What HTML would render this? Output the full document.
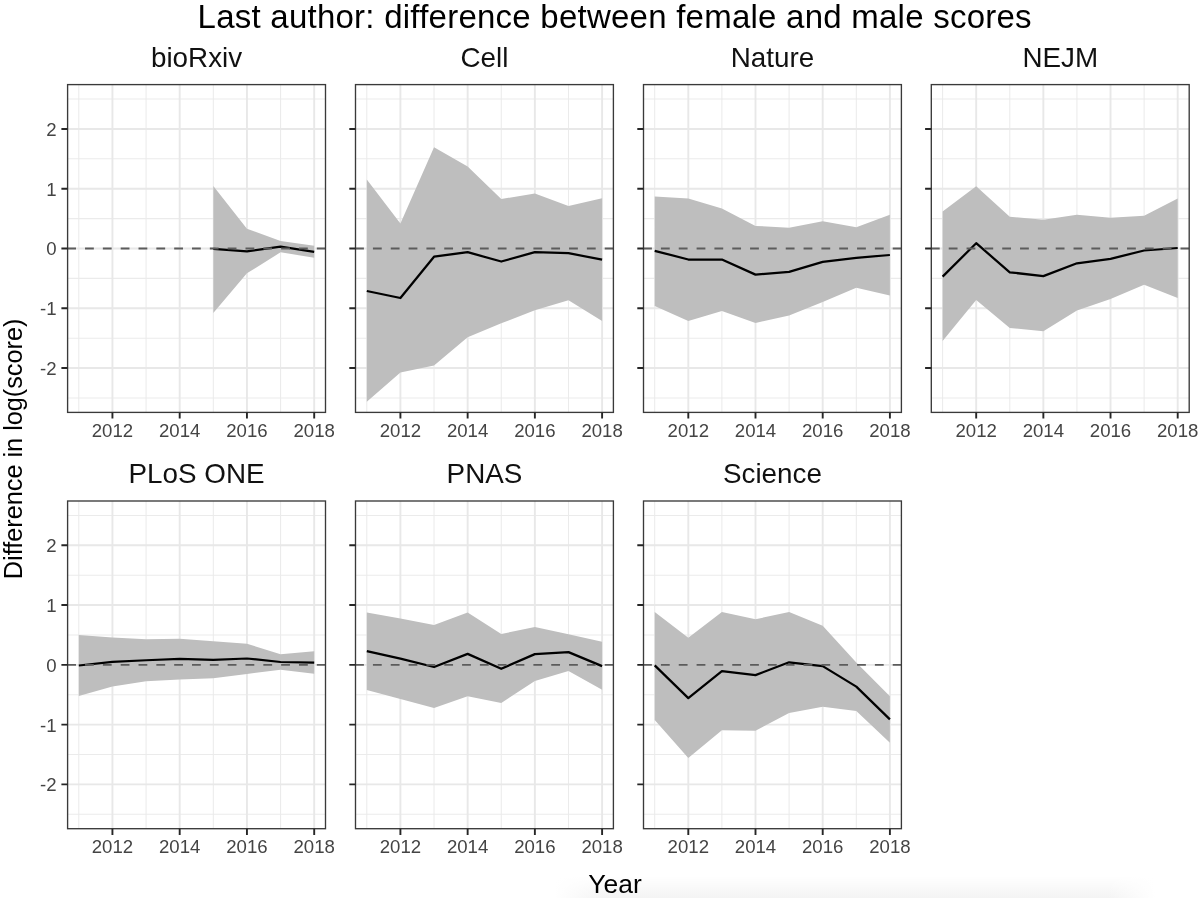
<!DOCTYPE html>
<html lang="en"><head><meta charset="utf-8"><title>Last author: difference between female and male scores</title>
<style>html,body{margin:0;padding:0;background:#fff}body{width:1200px;height:898px;overflow:hidden}svg{display:block}text{font-family:"Liberation Sans",Arial,Helvetica,sans-serif}</style>
</head><body>
<svg width="1200" height="898" viewBox="0 0 1200 898">
<defs><linearGradient id="sh" x1="0" y1="0" x2="0" y2="1"><stop offset="0" stop-color="#000" stop-opacity="0"/><stop offset="1" stop-color="#000" stop-opacity="0.045"/></linearGradient><linearGradient id="shx" x1="0" y1="0" x2="1" y2="0"><stop offset="0" stop-color="#fff" stop-opacity="1"/><stop offset="0.08" stop-color="#fff" stop-opacity="0"/><stop offset="0.92" stop-color="#fff" stop-opacity="0"/><stop offset="1" stop-color="#fff" stop-opacity="1"/></linearGradient></defs>
<rect width="1200" height="898" fill="#ffffff"/>
<rect x="555" y="876" width="600" height="22" fill="url(#sh)"/><rect x="555" y="876" width="600" height="22" fill="url(#shx)"/>
<text x="197.6" y="28.3" font-size="33" fill="#000" textLength="834" lengthAdjust="spacing">Last author: difference between female and male scores</text>
<text x="588.3" y="893.2" font-size="25" fill="#000" textLength="53.4" lengthAdjust="spacingAndGlyphs">Year</text>
<text transform="translate(21.7,448.9) rotate(-90)" font-size="25.25" fill="#000" text-anchor="middle">Difference in log(score)</text>
<g>
<text x="196.55" y="66.8" font-size="27.8" fill="#111" text-anchor="middle">bioRxiv</text>
<path d="M67.6 397.95H325.5M67.6 338.17H325.5M67.6 278.39H325.5M67.6 218.61H325.5M67.6 158.83H325.5M67.6 99.05H325.5M78.8 84.6V412.4M146.06 84.6V412.4M213.31 84.6V412.4M280.57 84.6V412.4" stroke="#ebebeb" stroke-width="1.05" fill="none"/>
<path d="M67.6 368.06H325.5M67.6 308.28H325.5M67.6 248.5H325.5M67.6 188.72H325.5M67.6 128.94H325.5M112.43 84.6V412.4M179.69 84.6V412.4M246.94 84.6V412.4M314.2 84.6V412.4" stroke="#e8e8e8" stroke-width="1.9" fill="none"/>
<polygon points="213.31,186 246.94,228.8 280.57,240.9 314.2,245.7 314.2,257.7 280.57,252.3 246.94,273.3 213.31,313.1" fill="#bebebe"/>
<polyline points="213.31,248.9 246.94,251.4 280.57,246.6 314.2,251.9" fill="none" stroke="#000" stroke-width="2.25" stroke-linejoin="round" stroke-linecap="butt"/>
<path d="M67.6 248.5H325.5" stroke="#5c5c5c" stroke-width="1.95" stroke-dasharray="8.8 9.03" stroke-dashoffset="0.4" fill="none"/>
<rect x="67.6" y="84.6" width="257.9" height="327.8" fill="none" stroke="#3a3a3a" stroke-width="1.35"/>
<path d="M61.4 368.06H67.6M61.4 308.28H67.6M61.4 248.5H67.6M61.4 188.72H67.6M61.4 128.94H67.6M112.43 412.4V418.6M179.69 412.4V418.6M246.94 412.4V418.6M314.2 412.4V418.6" stroke="#262626" stroke-width="1.9" fill="none"/>
<text x="112.43" y="436.7" font-size="18.6" fill="#444" text-anchor="middle">2012</text>
<text x="179.69" y="436.7" font-size="18.6" fill="#444" text-anchor="middle">2014</text>
<text x="246.94" y="436.7" font-size="18.6" fill="#444" text-anchor="middle">2016</text>
<text x="314.2" y="436.7" font-size="18.6" fill="#444" text-anchor="middle">2018</text>
<text x="56.6" y="374.96" font-size="18.6" fill="#444" text-anchor="end">-2</text>
<text x="56.6" y="315.18" font-size="18.6" fill="#444" text-anchor="end">-1</text>
<text x="56.6" y="255.4" font-size="18.6" fill="#444" text-anchor="end">0</text>
<text x="56.6" y="195.62" font-size="18.6" fill="#444" text-anchor="end">1</text>
<text x="56.6" y="135.84" font-size="18.6" fill="#444" text-anchor="end">2</text>
</g>
<g>
<text x="484.45" y="66.8" font-size="27.8" fill="#111" text-anchor="middle">Cell</text>
<path d="M355.5 397.95H613.4M355.5 338.17H613.4M355.5 278.39H613.4M355.5 218.61H613.4M355.5 158.83H613.4M355.5 99.05H613.4M366.8 84.6V412.4M434.03 84.6V412.4M501.26 84.6V412.4M568.49 84.6V412.4" stroke="#ebebeb" stroke-width="1.05" fill="none"/>
<path d="M355.5 368.06H613.4M355.5 308.28H613.4M355.5 248.5H613.4M355.5 188.72H613.4M355.5 128.94H613.4M400.41 84.6V412.4M467.64 84.6V412.4M534.87 84.6V412.4M602.1 84.6V412.4" stroke="#e8e8e8" stroke-width="1.9" fill="none"/>
<polygon points="366.8,179.5 400.41,223.4 434.03,147.2 467.64,166.5 501.26,199 534.87,193.5 568.49,206.1 602.1,198.3 602.1,321.1 568.49,300.3 534.87,310.3 501.26,323.3 467.64,337.3 434.03,365.4 400.41,372.4 366.8,401.8" fill="#bebebe"/>
<polyline points="366.8,291 400.41,298 434.03,256.7 467.64,252.2 501.26,261.5 534.87,252.2 568.49,253.2 602.1,259.7" fill="none" stroke="#000" stroke-width="2.25" stroke-linejoin="round" stroke-linecap="butt"/>
<path d="M355.5 248.5H613.4" stroke="#5c5c5c" stroke-width="1.95" stroke-dasharray="8.8 9.03" stroke-dashoffset="0.4" fill="none"/>
<rect x="355.5" y="84.6" width="257.9" height="327.8" fill="none" stroke="#3a3a3a" stroke-width="1.35"/>
<path d="M349.3 368.06H355.5M349.3 308.28H355.5M349.3 248.5H355.5M349.3 188.72H355.5M349.3 128.94H355.5M400.41 412.4V418.6M467.64 412.4V418.6M534.87 412.4V418.6M602.1 412.4V418.6" stroke="#262626" stroke-width="1.9" fill="none"/>
<text x="400.41" y="436.7" font-size="18.6" fill="#444" text-anchor="middle">2012</text>
<text x="467.64" y="436.7" font-size="18.6" fill="#444" text-anchor="middle">2014</text>
<text x="534.87" y="436.7" font-size="18.6" fill="#444" text-anchor="middle">2016</text>
<text x="602.1" y="436.7" font-size="18.6" fill="#444" text-anchor="middle">2018</text>
</g>
<g>
<text x="772.45" y="66.8" font-size="27.8" fill="#111" text-anchor="middle">Nature</text>
<path d="M643.5 397.95H901.4M643.5 338.17H901.4M643.5 278.39H901.4M643.5 218.61H901.4M643.5 158.83H901.4M643.5 99.05H901.4M654.7 84.6V412.4M721.9 84.6V412.4M789.1 84.6V412.4M856.3 84.6V412.4" stroke="#ebebeb" stroke-width="1.05" fill="none"/>
<path d="M643.5 368.06H901.4M643.5 308.28H901.4M643.5 248.5H901.4M643.5 188.72H901.4M643.5 128.94H901.4M688.3 84.6V412.4M755.5 84.6V412.4M822.7 84.6V412.4M889.9 84.6V412.4" stroke="#e8e8e8" stroke-width="1.9" fill="none"/>
<polygon points="654.7,196.4 688.3,198.4 721.9,208.4 755.5,225.9 789.1,227.7 822.7,221.2 856.3,227.2 889.9,214.7 889.9,295.4 856.3,287.8 822.7,302.1 789.1,315.4 755.5,322.9 721.9,310.9 688.3,320.9 654.7,305.9" fill="#bebebe"/>
<polyline points="654.7,250.8 688.3,259.5 721.9,259.5 755.5,274.6 789.1,271.8 822.7,261.8 856.3,257.8 889.9,255" fill="none" stroke="#000" stroke-width="2.25" stroke-linejoin="round" stroke-linecap="butt"/>
<path d="M643.5 248.5H901.4" stroke="#5c5c5c" stroke-width="1.95" stroke-dasharray="8.8 9.03" stroke-dashoffset="0.4" fill="none"/>
<rect x="643.5" y="84.6" width="257.9" height="327.8" fill="none" stroke="#3a3a3a" stroke-width="1.35"/>
<path d="M637.3 368.06H643.5M637.3 308.28H643.5M637.3 248.5H643.5M637.3 188.72H643.5M637.3 128.94H643.5M688.3 412.4V418.6M755.5 412.4V418.6M822.7 412.4V418.6M889.9 412.4V418.6" stroke="#262626" stroke-width="1.9" fill="none"/>
<text x="688.3" y="436.7" font-size="18.6" fill="#444" text-anchor="middle">2012</text>
<text x="755.5" y="436.7" font-size="18.6" fill="#444" text-anchor="middle">2014</text>
<text x="822.7" y="436.7" font-size="18.6" fill="#444" text-anchor="middle">2016</text>
<text x="889.9" y="436.7" font-size="18.6" fill="#444" text-anchor="middle">2018</text>
</g>
<g>
<text x="1060.25" y="66.8" font-size="27.8" fill="#111" text-anchor="middle">NEJM</text>
<path d="M931.3 397.95H1189.2M931.3 338.17H1189.2M931.3 278.39H1189.2M931.3 218.61H1189.2M931.3 158.83H1189.2M931.3 99.05H1189.2M942.6 84.6V412.4M1009.77 84.6V412.4M1076.94 84.6V412.4M1144.11 84.6V412.4" stroke="#ebebeb" stroke-width="1.05" fill="none"/>
<path d="M931.3 368.06H1189.2M931.3 308.28H1189.2M931.3 248.5H1189.2M931.3 188.72H1189.2M931.3 128.94H1189.2M976.19 84.6V412.4M1043.36 84.6V412.4M1110.53 84.6V412.4M1177.7 84.6V412.4" stroke="#e8e8e8" stroke-width="1.9" fill="none"/>
<polygon points="942.6,211.4 976.19,186.3 1009.77,216.7 1043.36,219.7 1076.94,214.7 1110.53,217.7 1144.11,215.7 1177.7,198.4 1177.7,297.9 1144.11,284.8 1110.53,299.1 1076.94,310.4 1043.36,331.2 1009.77,327.9 976.19,299.9 942.6,341" fill="#bebebe"/>
<polyline points="942.6,276.6 976.19,243.2 1009.77,272.3 1043.36,276.1 1076.94,263.3 1110.53,258.8 1144.11,250.5 1177.7,248" fill="none" stroke="#000" stroke-width="2.25" stroke-linejoin="round" stroke-linecap="butt"/>
<path d="M931.3 248.5H1189.2" stroke="#5c5c5c" stroke-width="1.95" stroke-dasharray="8.8 9.03" stroke-dashoffset="0.4" fill="none"/>
<rect x="931.3" y="84.6" width="257.9" height="327.8" fill="none" stroke="#3a3a3a" stroke-width="1.35"/>
<path d="M925.1 368.06H931.3M925.1 308.28H931.3M925.1 248.5H931.3M925.1 188.72H931.3M925.1 128.94H931.3M976.19 412.4V418.6M1043.36 412.4V418.6M1110.53 412.4V418.6M1177.7 412.4V418.6" stroke="#262626" stroke-width="1.9" fill="none"/>
<text x="976.19" y="436.7" font-size="18.6" fill="#444" text-anchor="middle">2012</text>
<text x="1043.36" y="436.7" font-size="18.6" fill="#444" text-anchor="middle">2014</text>
<text x="1110.53" y="436.7" font-size="18.6" fill="#444" text-anchor="middle">2016</text>
<text x="1177.7" y="436.7" font-size="18.6" fill="#444" text-anchor="middle">2018</text>
</g>
<g>
<text x="196.55" y="483.2" font-size="27.8" fill="#111" text-anchor="middle">PLoS ONE</text>
<path d="M67.6 814.3H325.5M67.6 754.52H325.5M67.6 694.74H325.5M67.6 634.96H325.5M67.6 575.18H325.5M67.6 515.4H325.5M78.8 501V828.7M146.06 501V828.7M213.31 501V828.7M280.57 501V828.7" stroke="#ebebeb" stroke-width="1.05" fill="none"/>
<path d="M67.6 784.41H325.5M67.6 724.63H325.5M67.6 664.85H325.5M67.6 605.07H325.5M67.6 545.29H325.5M112.43 501V828.7M179.69 501V828.7M246.94 501V828.7M314.2 501V828.7" stroke="#e8e8e8" stroke-width="1.9" fill="none"/>
<polygon points="78.8,634.9 112.43,637.5 146.06,639.25 179.69,638.7 213.31,641.35 246.94,643.7 280.57,654.2 314.2,651.3 314.2,673.7 280.57,669.8 246.94,673.9 213.31,678.3 179.69,679.5 146.06,681.25 112.43,686.5 78.8,696.1" fill="#bebebe"/>
<polyline points="78.8,665.5 112.43,661.8 146.06,660.25 179.69,658.85 213.31,659.9 246.94,658.5 280.57,662 314.2,662.6" fill="none" stroke="#000" stroke-width="2.25" stroke-linejoin="round" stroke-linecap="butt"/>
<path d="M67.6 664.85H325.5" stroke="#5c5c5c" stroke-width="1.95" stroke-dasharray="8.8 9.03" stroke-dashoffset="0.4" fill="none"/>
<rect x="67.6" y="501" width="257.9" height="327.7" fill="none" stroke="#3a3a3a" stroke-width="1.35"/>
<path d="M61.4 784.41H67.6M61.4 724.63H67.6M61.4 664.85H67.6M61.4 605.07H67.6M61.4 545.29H67.6M112.43 828.7V834.9M179.69 828.7V834.9M246.94 828.7V834.9M314.2 828.7V834.9" stroke="#262626" stroke-width="1.9" fill="none"/>
<text x="112.43" y="853" font-size="18.6" fill="#444" text-anchor="middle">2012</text>
<text x="179.69" y="853" font-size="18.6" fill="#444" text-anchor="middle">2014</text>
<text x="246.94" y="853" font-size="18.6" fill="#444" text-anchor="middle">2016</text>
<text x="314.2" y="853" font-size="18.6" fill="#444" text-anchor="middle">2018</text>
<text x="56.6" y="791.31" font-size="18.6" fill="#444" text-anchor="end">-2</text>
<text x="56.6" y="731.53" font-size="18.6" fill="#444" text-anchor="end">-1</text>
<text x="56.6" y="671.75" font-size="18.6" fill="#444" text-anchor="end">0</text>
<text x="56.6" y="611.97" font-size="18.6" fill="#444" text-anchor="end">1</text>
<text x="56.6" y="552.19" font-size="18.6" fill="#444" text-anchor="end">2</text>
</g>
<g>
<text x="484.45" y="483.2" font-size="27.8" fill="#111" text-anchor="middle">PNAS</text>
<path d="M355.5 814.3H613.4M355.5 754.52H613.4M355.5 694.74H613.4M355.5 634.96H613.4M355.5 575.18H613.4M355.5 515.4H613.4M366.8 501V828.7M434.03 501V828.7M501.26 501V828.7M568.49 501V828.7" stroke="#ebebeb" stroke-width="1.05" fill="none"/>
<path d="M355.5 784.41H613.4M355.5 724.63H613.4M355.5 664.85H613.4M355.5 605.07H613.4M355.5 545.29H613.4M400.41 501V828.7M467.64 501V828.7M534.87 501V828.7M602.1 501V828.7" stroke="#e8e8e8" stroke-width="1.9" fill="none"/>
<polygon points="366.8,612.5 400.41,618.6 434.03,624.9 467.64,612.5 501.26,633.9 534.87,627.1 568.49,634.3 602.1,641.75 602.1,689.7 568.49,671 534.87,681.1 501.26,703 467.64,696.2 434.03,708.1 400.41,699.1 366.8,690.1" fill="#bebebe"/>
<polyline points="366.8,651.2 400.41,658.6 434.03,667 467.64,653.9 501.26,668.75 534.87,654.1 568.49,652.1 602.1,666.1" fill="none" stroke="#000" stroke-width="2.25" stroke-linejoin="round" stroke-linecap="butt"/>
<path d="M355.5 664.85H613.4" stroke="#5c5c5c" stroke-width="1.95" stroke-dasharray="8.8 9.03" stroke-dashoffset="0.4" fill="none"/>
<rect x="355.5" y="501" width="257.9" height="327.7" fill="none" stroke="#3a3a3a" stroke-width="1.35"/>
<path d="M349.3 784.41H355.5M349.3 724.63H355.5M349.3 664.85H355.5M349.3 605.07H355.5M349.3 545.29H355.5M400.41 828.7V834.9M467.64 828.7V834.9M534.87 828.7V834.9M602.1 828.7V834.9" stroke="#262626" stroke-width="1.9" fill="none"/>
<text x="400.41" y="853" font-size="18.6" fill="#444" text-anchor="middle">2012</text>
<text x="467.64" y="853" font-size="18.6" fill="#444" text-anchor="middle">2014</text>
<text x="534.87" y="853" font-size="18.6" fill="#444" text-anchor="middle">2016</text>
<text x="602.1" y="853" font-size="18.6" fill="#444" text-anchor="middle">2018</text>
</g>
<g>
<text x="772.45" y="483.2" font-size="27.8" fill="#111" text-anchor="middle">Science</text>
<path d="M643.5 814.3H901.4M643.5 754.52H901.4M643.5 694.74H901.4M643.5 634.96H901.4M643.5 575.18H901.4M643.5 515.4H901.4M654.7 501V828.7M721.9 501V828.7M789.1 501V828.7M856.3 501V828.7" stroke="#ebebeb" stroke-width="1.05" fill="none"/>
<path d="M643.5 784.41H901.4M643.5 724.63H901.4M643.5 664.85H901.4M643.5 605.07H901.4M643.5 545.29H901.4M688.3 501V828.7M755.5 501V828.7M822.7 501V828.7M889.9 501V828.7" stroke="#e8e8e8" stroke-width="1.9" fill="none"/>
<polygon points="654.7,611.9 688.3,637.75 721.9,611.9 755.5,619.3 789.1,611.9 822.7,625.8 856.3,662.5 889.9,696.25 889.9,742.8 856.3,710.9 822.7,706.8 789.1,713.1 755.5,730.7 721.9,730.2 688.3,758.1 654.7,719.9" fill="#bebebe"/>
<polyline points="654.7,665.4 688.3,698.1 721.9,671.1 755.5,675.1 789.1,662.3 822.7,666.1 856.3,686.6 889.9,719.4" fill="none" stroke="#000" stroke-width="2.25" stroke-linejoin="round" stroke-linecap="butt"/>
<path d="M643.5 664.85H901.4" stroke="#5c5c5c" stroke-width="1.95" stroke-dasharray="8.8 9.03" stroke-dashoffset="0.4" fill="none"/>
<rect x="643.5" y="501" width="257.9" height="327.7" fill="none" stroke="#3a3a3a" stroke-width="1.35"/>
<path d="M637.3 784.41H643.5M637.3 724.63H643.5M637.3 664.85H643.5M637.3 605.07H643.5M637.3 545.29H643.5M688.3 828.7V834.9M755.5 828.7V834.9M822.7 828.7V834.9M889.9 828.7V834.9" stroke="#262626" stroke-width="1.9" fill="none"/>
<text x="688.3" y="853" font-size="18.6" fill="#444" text-anchor="middle">2012</text>
<text x="755.5" y="853" font-size="18.6" fill="#444" text-anchor="middle">2014</text>
<text x="822.7" y="853" font-size="18.6" fill="#444" text-anchor="middle">2016</text>
<text x="889.9" y="853" font-size="18.6" fill="#444" text-anchor="middle">2018</text>
</g>
</svg>
</body></html>
